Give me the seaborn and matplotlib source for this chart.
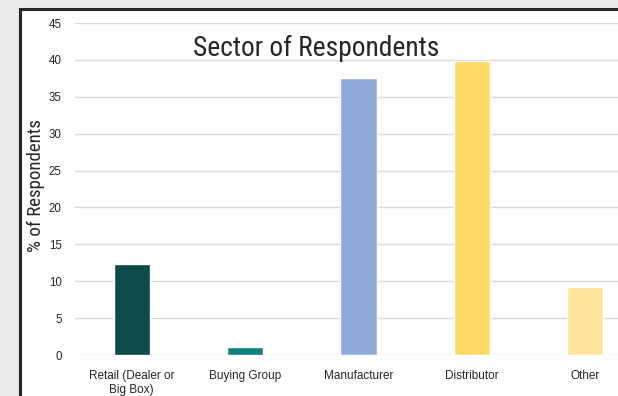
import matplotlib
matplotlib.use("Agg")
import matplotlib.pyplot as plt
from matplotlib.patches import Rectangle
import seaborn as sns
import pandas as pd

# Survey data: share of respondents by sector
categories = ["Retail (Dealer or\nBig Box)", "Buying Group", "Manufacturer", "Distributor", "Other"]
percent = [12.4, 1.1, 37.6, 39.8, 9.2]
bar_colors = ["#0d4b4b", "#0f827d", "#8eaadb", "#ffd966", "#ffe599"]
y_ticks = [0, 5, 10, 15, 20, 25, 30, 35, 40, 45]

df = pd.DataFrame({"sector": categories, "pct": percent})

sns.set_theme(style="white")
plt.rcParams["font.family"] = ["Liberation Sans", "DejaVu Sans"]

fig = plt.figure(figsize=(6.18, 3.96), dpi=100)
fig.patch.set_facecolor("#ebebeb")

# backdrop: white panel with dark frame, running off the right and bottom edges
bg = fig.add_axes([0, 0, 1, 1], zorder=-1)
bg.set_axis_off()
bg.set_xlim(0, 618)
bg.set_ylim(396, 0)
bg.add_patch(Rectangle((19.5, 8.5), 700, 500, facecolor="white",
                       edgecolor="#262626", linewidth=2.2))

ax = fig.add_axes([75 / 618, 41 / 396, 567 / 618, 332 / 396], zorder=1)
ax.set_facecolor("none")

sns.barplot(data=df, x="sector", y="pct", hue="sector", palette=bar_colors,
            width=0.32, legend=False, saturation=1, ax=ax, zorder=3)

ax.set_xlim(-0.5, 4.5)
ax.set_ylim(0, 45)
ax.set_yticks(y_ticks)
ax.grid(axis="y", color="#d9d9d9", linewidth=1.0, zorder=0)
ax.set_axisbelow(True)
for s in ax.spines.values():
    s.set_visible(False)
ax.tick_params(axis="y", length=0, pad=9.5, labelsize=8.3, labelcolor="#262626")
ax.tick_params(axis="x", length=0, pad=10.5, labelsize=8.5, labelcolor="#262626")
for lbl in ax.get_xticklabels():
    lbl.set_linespacing(1.3)
ax.set_xlabel("")
ax.set_ylabel("")

narrow = ["Roboto Condensed", "DejaVu Sans"]
fig.text(316 / 618, 1 - 56 / 396, "Sector of Respondents", ha="center",
         va="baseline", fontsize=19.8, color="#262626", family=narrow)
fig.text(36 / 618, 1 - 186 / 396, "% of Respondents", ha="center", va="center",
         rotation=90, fontsize=13.6, color="#262626", family=narrow)

fig.savefig("out.png", dpi=100, facecolor=fig.get_facecolor())
